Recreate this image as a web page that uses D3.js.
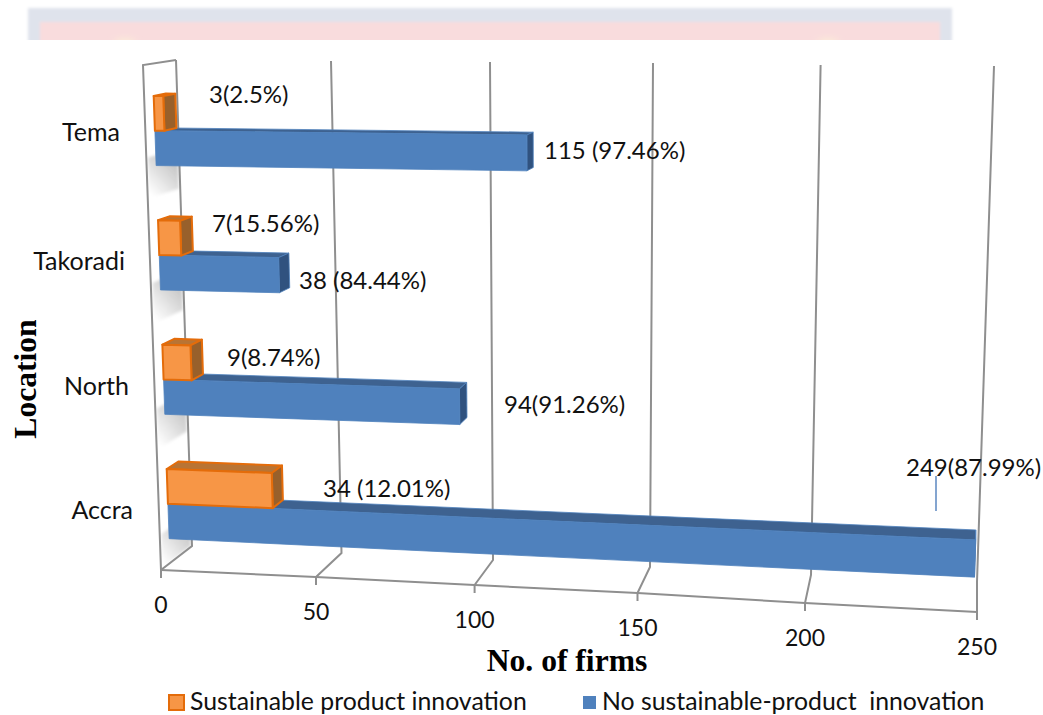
<!DOCTYPE html>
<html>
<head>
<meta charset="utf-8">
<script src="https://cdn.jsdelivr.net/npm/d3@7"></script>
<style>
  html, body { margin: 0; padding: 0; background: #fff; }
  text { font-family: Lato, sans-serif; fill: #111; white-space: pre; }
  .axis-title { font-family: "Liberation Serif", serif; font-weight: bold; font-size: 31.6px; fill: #000; }
</style>
</head>
<body>
<div id="chart"></div>
<script>
// ── Data ──────────────────────────────────────────────
const locations = ["Accra", "North", "Takoradi", "Tema"];
const sustainable = [34, 9, 7, 3];
const noSustainable = [249, 94, 38, 115];
const sustainableLabels = ["34 (12.01%)", "9(8.74%)", "7(15.56%)", "3(2.5%)"];
const noSustainableLabels = ["249(87.99%)", "94(91.26%)", "38 (84.44%)", "115 (97.46%)"];
const xTicks = [0, 50, 100, 150, 200, 250];
const legendNames = ["Sustainable product innovation", "No sustainable-product  innovation"];

// ── Label placement (left edge, vertical centre) ──────
const sustainablePos = [[323, 489], [227, 358], [212, 224], [209, 95]];
const noSustainablePos = [[906, 468], [504, 405], [299, 281], [544, 151]];
const categoryPos = [[133, 510], [129, 386], [125, 261], [120, 132]];

const W = 1043, H = 715;
const svg = d3.select("#chart").append("svg").attr("width", W).attr("height", H);
const defs = svg.append("defs");

// ── 3D box: edges of the plot in screen space, per tick ─
const across = range => d3.scaleLinear().domain(xTicks).range(range);
const floorFrontX = across([161, 316, 474.6, 637.5, 805, 977]);
const floorFrontY = across([570, 577, 585, 593, 603, 612]);
const floorBackX = across([192, 341.5, 493, 650, 811, 977]);
const floorBackY = across([546, 553, 560, 567, 575, 582]);
const wallTopX = across([176, 331, 490, 653, 820.6, 994]);
const wallTopY = across([60, 61, 62, 63, 65, 66]);
const frontTopX = across([143, 304, 470.6, 640.5, 816, 996]);
const frontTopY = across([65, 66, 67, 68, 71, 72]);

const lerp = (a, b, t) => a + (b - a) * t;

// v = firms, d = depth (0 front, 1 back), h = height (0 floor, 1 top)
function project(v, d, h) {
  const baseX = lerp(floorFrontX(v), floorBackX(v), d);
  const baseY = lerp(floorFrontY(v), floorBackY(v), d);
  const upX = lerp(frontTopX(v) - floorFrontX(v), wallTopX(v) - floorBackX(v), d);
  const upY = lerp(frontTopY(v) - floorFrontY(v), wallTopY(v) - floorBackY(v), d);
  return [baseX + upX * h, baseY + upY * h];
}

const line = d3.line();
const poly = pts => line(pts) + "Z";

const heightBand = d3.scaleBand()
  .domain(locations)
  .range([-0.006, 0.99])
  .paddingInner(0.44)
  .paddingOuter(0.22);
const depthFront = 0.29, depthBack = 0.66;

// ── Banner strip above the chart ──────────────────────
const soft = defs.append("filter").attr("id", "soft")
  .attr("x", "-5%").attr("y", "-30%").attr("width", "110%").attr("height", "160%");
soft.append("feGaussianBlur").attr("stdDeviation", 1.8);
const glow = defs.append("filter").attr("id", "glow")
  .attr("x", "-50%").attr("y", "-100%").attr("width", "200%").attr("height", "300%");
glow.append("feGaussianBlur").attr("stdDeviation", 3.5);
const shadowBlur = defs.append("filter").attr("id", "shadow-blur")
  .attr("x", "-20%").attr("y", "-20%").attr("width", "140%").attr("height", "140%");
shadowBlur.append("feGaussianBlur").attr("stdDeviation", 1.5);

const banner = svg.append("g").attr("filter", "url(#soft)");
banner.append("rect").attr("x", 28).attr("y", 8).attr("width", 924).attr("height", 50).attr("fill", "#dfe3ec");
banner.append("rect").attr("x", 40).attr("y", 22).attr("width", 900).attr("height", 40).attr("fill", "#f9dcdd");
[125, 828].forEach(cx => {
  svg.append("ellipse").attr("cx", cx).attr("cy", 42).attr("rx", 11).attr("ry", 3)
    .attr("fill", "#fdf0d8").attr("filter", "url(#glow)");
});
svg.append("rect").attr("x", 0).attr("y", 40).attr("width", W).attr("height", H - 40).attr("fill", "#fff");

// ── Shadows on the side wall ──────────────────────────
const shade = defs.append("linearGradient").attr("id", "wall-shade")
  .attr("x1", 0.85).attr("y1", 0).attr("x2", 0.2).attr("y2", 1);
shade.append("stop").attr("offset", "0%").attr("stop-color", "#b8b8b8");
shade.append("stop").attr("offset", "100%").attr("stop-color", "#fff");

locations.forEach(name => {
  const top = heightBand(name) + 0.02;
  const bottom = Math.max(top - 0.08, 0.002);
  svg.append("path")
    .attr("d", poly([project(0, 0.05, top), project(0, 0.96, top), project(0, 0.96, bottom), project(0, 0.05, bottom)]))
    .attr("fill", "url(#wall-shade)")
    .attr("filter", "url(#shadow-blur)");
});

// ── Gridlines and wall outline ────────────────────────
const gridColor = "#8f8f8f";
const gridWidth = 2;
xTicks.forEach(t => {
  const pts = [project(t, 1, 1), project(t, 1, 0), project(t, 0, 0)];
  pts.push([pts[2][0], pts[2][1] + 8]);
  svg.append("path").attr("d", line(pts))
    .attr("fill", "none").attr("stroke", gridColor).attr("stroke-width", gridWidth);
});
svg.append("path")
  .attr("d", line([project(0, 1, 1), project(0, 0, 1), project(0, 0, 0)]))
  .attr("fill", "none").attr("stroke", gridColor).attr("stroke-width", gridWidth);
svg.append("path")
  .attr("d", line(xTicks.map(t => project(t, 0, 0))))
  .attr("fill", "none").attr("stroke", gridColor).attr("stroke-width", gridWidth);

// ── Bars ──────────────────────────────────────────────
function drawBox(value, low, high, c) {
  const g = svg.append("g").attr("stroke-linejoin", "round");
  g.append("path")
    .attr("d", poly([project(0, depthFront, high), project(0, depthBack, high), project(value, depthBack, high), project(value, depthFront, high)]))
    .attr("fill", c.top).attr("stroke", c.edge).attr("stroke-width", c.width);
  g.append("path")
    .attr("d", poly([project(value, depthFront, high), project(value, depthBack, high), project(value, depthBack, low), project(value, depthFront, low)]))
    .attr("fill", c.side).attr("stroke", c.edge).attr("stroke-width", c.width);
  g.append("path")
    .attr("d", poly([project(0, depthFront, low), project(0, depthFront, high), project(value, depthFront, high), project(value, depthFront, low)]))
    .attr("fill", c.face).attr("stroke", c.edge).attr("stroke-width", c.width);
}

const blueStyle = { face: "#4f81bd", top: "#3e6290", side: "#30527f", edge: "#4f81bd", width: 0.8 };
const orangeStyle = { face: "#f79646", top: "#b97434", side: "#98602b", edge: "#e46c0a", width: 2 };

// back rows first so the lower rows sit in front
d3.range(locations.length - 1, -1, -1).forEach(i => {
  const low = heightBand(locations[i]);
  const mid = low + heightBand.bandwidth() / 2;
  const high = low + heightBand.bandwidth();
  drawBox(noSustainable[i], low, mid, blueStyle);
  drawBox(sustainable[i], mid, high, orangeStyle);
});

// ── Text ──────────────────────────────────────────────
function addLabel(str, pos, anchor, size) {
  svg.append("text")
    .attr("x", pos[0]).attr("y", pos[1] - 1.5)
    .attr("text-anchor", anchor)
    .attr("dominant-baseline", "central")
    .attr("font-size", size)
    .text(str);
}

sustainableLabels.forEach((s, i) => addLabel(s, sustainablePos[i], "start", 24));
noSustainableLabels.forEach((s, i) => addLabel(s, noSustainablePos[i], "start", 24));
locations.forEach((s, i) => addLabel(s, categoryPos[i], "end", 25));

xTicks.forEach(t => {
  const p = project(t, 0, 0);
  addLabel(String(t), [p[0], p[1] + 35], "middle", 23);
});

// leader line for the Accra value
svg.append("line")
  .attr("x1", 936).attr("x2", 936).attr("y1", 476).attr("y2", 511)
  .attr("stroke", "#5b87c0").attr("stroke-width", 1.5);

svg.append("text").attr("class", "axis-title")
  .attr("x", 567).attr("y", 660)
  .attr("text-anchor", "middle").attr("dominant-baseline", "central")
  .text("No. of firms");

svg.append("text").attr("class", "axis-title")
  .attr("transform", "translate(25,379) rotate(-90)")
  .attr("text-anchor", "middle").attr("dominant-baseline", "central")
  .text("Location");

// ── Legend ────────────────────────────────────────────
svg.append("rect").attr("x", 169).attr("y", 695).attr("width", 15).attr("height", 15)
  .attr("fill", orangeStyle.face).attr("stroke", orangeStyle.edge).attr("stroke-width", 2);
addLabel(legendNames[0], [190, 702], "start", 24.8);
svg.append("rect").attr("x", 583).attr("y", 696).attr("width", 13).attr("height", 13)
  .attr("fill", blueStyle.face);
addLabel(legendNames[1], [602, 702], "start", 24.8);
</script>
</body>
</html>
